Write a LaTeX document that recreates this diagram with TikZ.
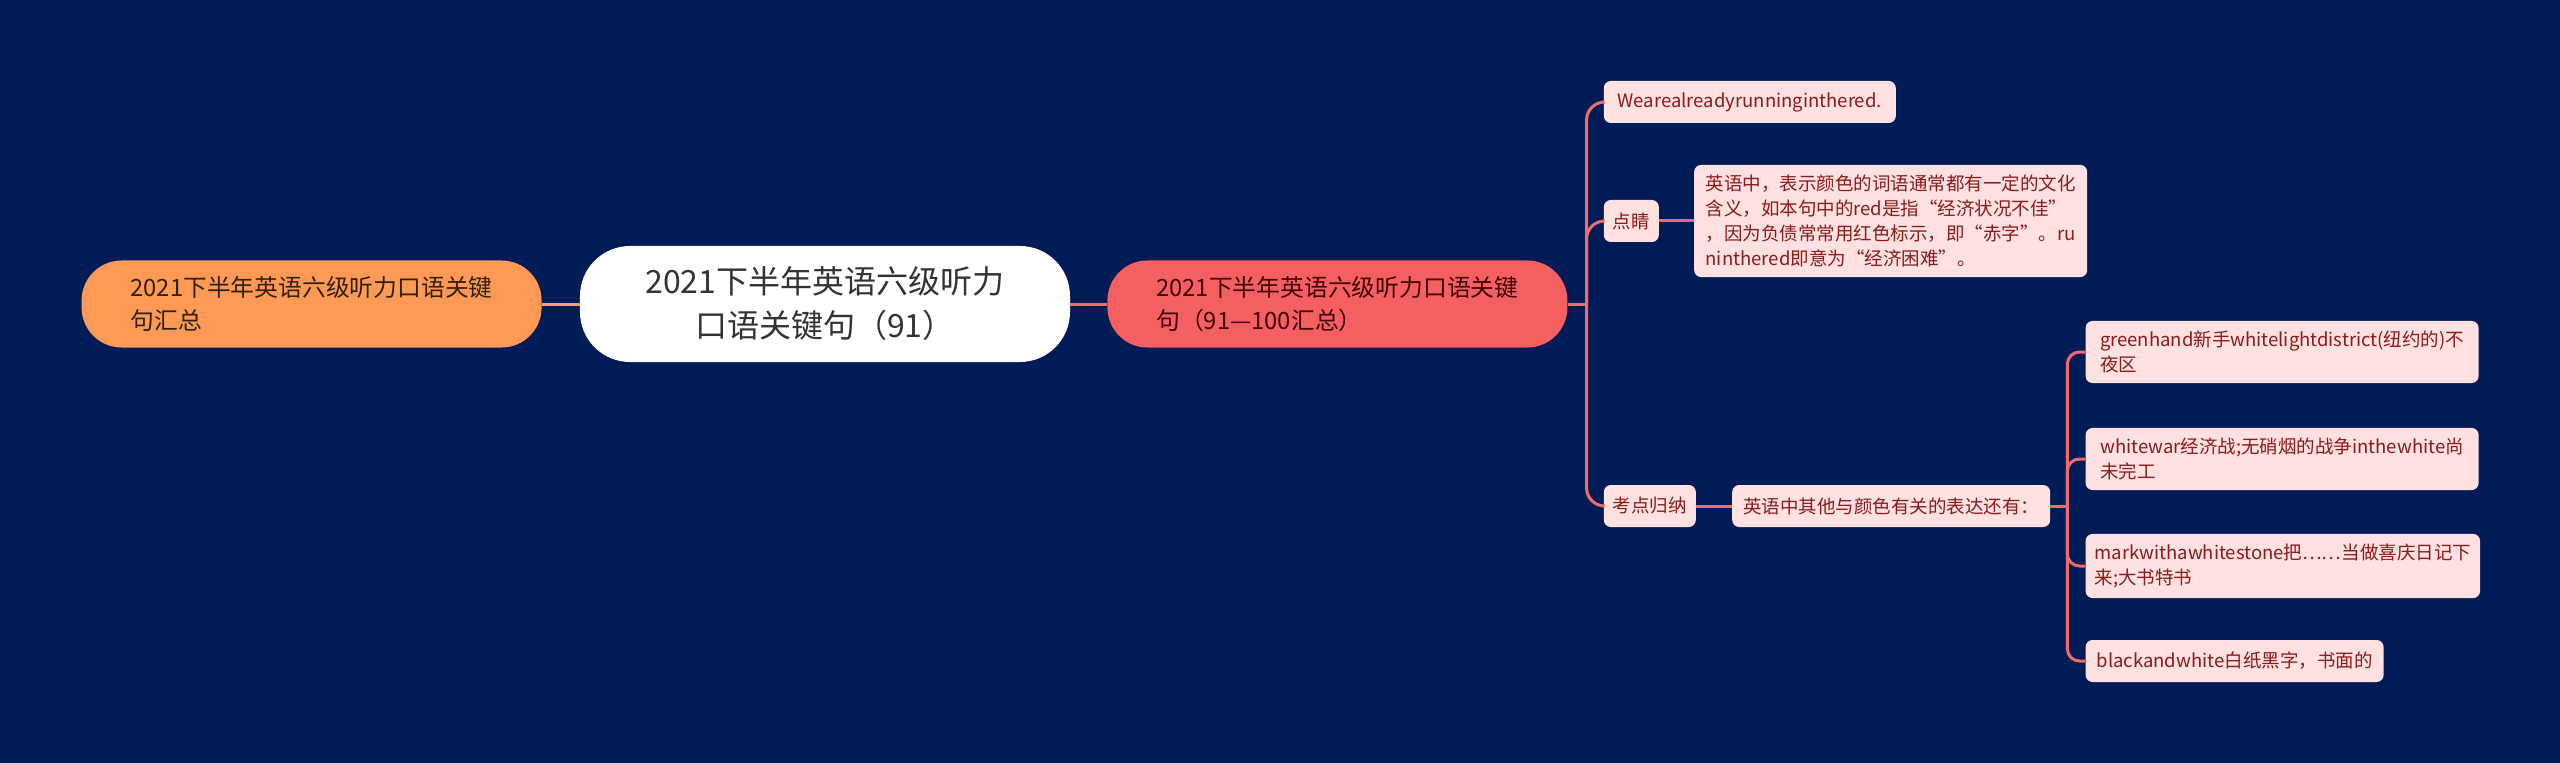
\documentclass[tikz,border=0pt]{standalone}
\usepackage{fontspec}
\setmainfont{Noto Sans CJK SC}
\usetikzlibrary{positioning}

\definecolor{bgnavy}{HTML}{011B56}
\definecolor{sumfill}{HTML}{FE9A55}
\definecolor{batchfill}{HTML}{F46062}
\definecolor{leaffill}{HTML}{FFE1E1}
\definecolor{leaftext}{HTML}{8B1A1A}
\definecolor{linkred}{HTML}{F06C6C}
\definecolor{linkorange}{HTML}{F4A273}

\tikzstyle{root} = [rectangle, rounded corners=50pt,
minimum width=490pt,
minimum height=116pt,
align=center,
fill=white, text=black!80,
font=\fontsize{32}{44}\selectfont]
\tikzstyle{side} = [rectangle, rounded corners=40pt,
minimum width=460pt,
minimum height=87pt,
align=left,
inner xsep=36pt,
font=\fontsize{23.8}{33}\selectfont]
\tikzstyle{leaf} = [rectangle, rounded corners=7pt,
minimum height=42pt,
inner xsep=9pt, inner ysep=10pt,
align=left,
fill=leaffill, text=leaftext,
font=\fontsize{18.5}{25}\selectfont]
\tikzstyle{link} = [line width=3pt, draw=linkred]

\begin{document}
\begin{tikzpicture}[x=1pt, y=1pt]
    \fill [bgnavy] (-825,304) rectangle (1735,-459);

    \node (main) [root] at (0,0) {2021下半年英语六级听力\\口语关键句（91）};

    \node (summary) [side, fill=sumfill, text=black!75!brown, left=38pt of main] {2021下半年英语六级听力口语关键\\句汇总};
    \node (batch) [side, fill=batchfill, text=black!75!red, right=37pt of main] {2021下半年英语六级听力口语关键\\句（91—100汇总）};

    \node (sentence) [leaf, minimum width=292pt, right=36pt of batch, yshift=202pt] {Wearealreadyrunninginthered.};
    \node (hint) [leaf, right=36pt of batch, yshift=83pt] {点睛};
    \node (hintnote) [leaf, minimum width=393pt, right=35pt of hint] {英语中，表示颜色的词语通常都有一定的文化\\含义，如本句中的red是指“经济状况不佳”\\，因为负债常常用红色标示，即“赤字”。ru\\ninthered即意为“经济困难”。};
    \node (keypoint) [leaf, right=36pt of batch, yshift=-202pt] {考点归纳};
    \node (keynote) [leaf, minimum width=318pt, right=36pt of keypoint] {英语中其他与颜色有关的表达还有：};

    \node (expr1) [leaf, minimum width=393pt, right=35pt of keynote, yshift=154pt] {greenhand新手whitelightdistrict(纽约的)不\\夜区};
    \node (expr2) [leaf, minimum width=393pt, right=35pt of keynote, yshift=47pt] {whitewar经济战;无硝烟的战争inthewhite尚\\未完工};
    \node (expr3) [leaf, minimum width=393pt, right=35pt of keynote, yshift=-60pt] {markwithawhitestone把……当做喜庆日记下\\来;大书特书};
    \node (expr4) [leaf, minimum width=298pt, right=35pt of keynote, yshift=-155pt] {blackandwhite白纸黑字，书面的};

    \draw [link, draw=linkorange] (summary) -- (main);
    \draw [link] (main) -- (batch);

    % first fork
    \draw [link] (batch.east) -- ++(19pt,0) coordinate (fork);
    \draw [link, rounded corners=18pt] (fork) |- (sentence.west);
    \draw [link, rounded corners=18pt] (fork) |- (hint.west);
    \draw [link, rounded corners=18pt] (fork) |- (keypoint.west);
    \draw [link] (hint) -- (hintnote);
    \draw [link] (keypoint) -- (keynote);

    % second fork
    \draw [link] (keynote.east) -- ++(17pt,0) coordinate (fork2);
    \foreach \leafname in {expr1, expr2, expr3, expr4}
        \draw [link, rounded corners=12pt] (fork2) |- (\leafname.west);
\end{tikzpicture}
\end{document}
